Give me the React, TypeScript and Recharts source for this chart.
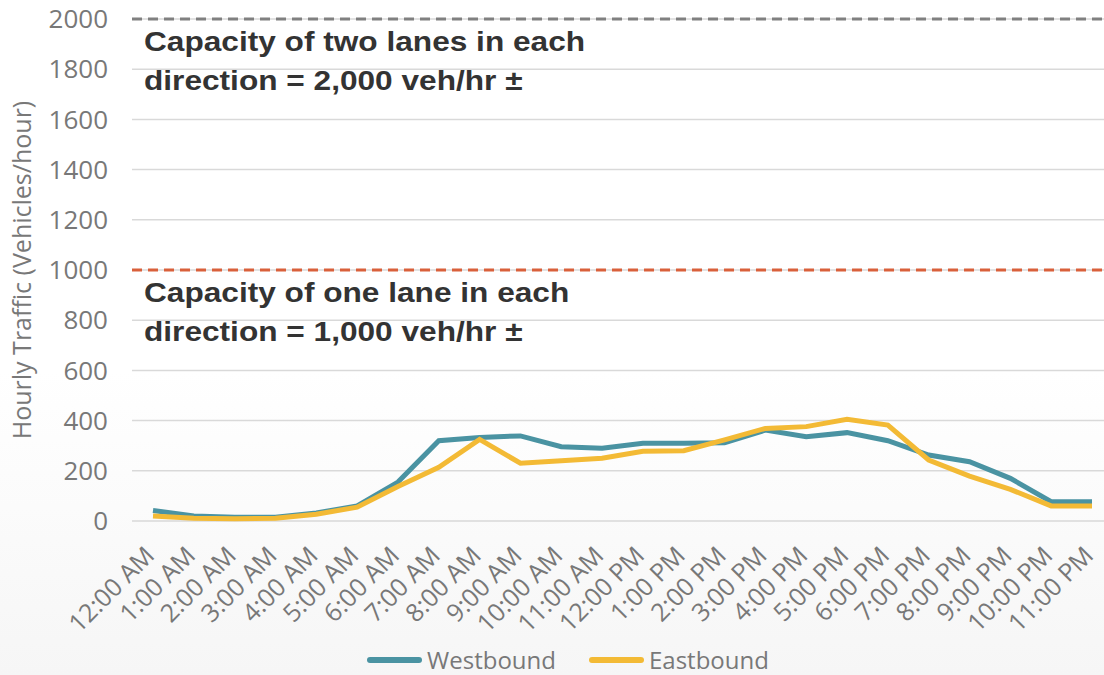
import {
  LineChart,
  Line,
  XAxis,
  YAxis,
  CartesianGrid,
  ReferenceLine,
  Legend,
} from 'recharts';

const hours = [
  '12:00 AM', '1:00 AM', '2:00 AM', '3:00 AM', '4:00 AM', '5:00 AM',
  '6:00 AM', '7:00 AM', '8:00 AM', '9:00 AM', '10:00 AM', '11:00 AM',
  '12:00 PM', '1:00 PM', '2:00 PM', '3:00 PM', '4:00 PM', '5:00 PM',
  '6:00 PM', '7:00 PM', '8:00 PM', '9:00 PM', '10:00 PM', '11:00 PM',
];
const westbound = [42, 20, 15, 15, 32, 60, 155, 320, 333, 339, 296, 290, 310, 310, 312, 362, 336, 352, 320, 263, 236, 170, 77, 77];
const eastbound = [20, 11, 9, 11, 27, 55, 137, 214, 325, 230, 240, 250, 278, 280, 323, 369, 376, 405, 382, 243, 179, 126, 60, 60];
const yTicks = [0, 200, 400, 600, 800, 1000, 1200, 1400, 1600, 1800, 2000];

const twoLaneText = ['Capacity of two lanes in each', 'direction = 2,000 veh/hr ±'];
const oneLaneText = ['Capacity of one lane in each', 'direction = 1,000 veh/hr ±'];

const data = hours.map((h, i) => ({ hour: h, westbound: westbound[i], eastbound: eastbound[i] }));

const TICK_FONT = '"Open Sans", "Noto Sans", sans-serif';
const GRAY = '#787878';
const TEAL = '#4a93a2';
const GOLD = '#f3ba35';

function HourTick({ x, y, payload }: any) {
  return (
    <g transform={`translate(${x + 3},${y + 36})`}>
      <text transform="rotate(-45)" textAnchor="end" fill={GRAY} fontSize={25} fontFamily={TICK_FONT}>
        {payload.value}
      </text>
    </g>
  );
}

// two-line note sitting just under a capacity line
const capacityLabel = (lines: string[]) => (props: any) => {
  const vb = props.viewBox;
  const x = vb.x + 12;
  const y = vb.y + 32;
  return (
    <g transform={`translate(${x},0) scale(1.13,1) translate(${-x},0)`}>
      <text
        x={x}
        y={y}
        fontSize={28}
        fontWeight="bold"
        fill="#333333"
        fontFamily='"Liberation Sans", Arial, sans-serif'
      >
        <tspan x={x} y={y}>{lines[0]}</tspan>
        <tspan x={x} dy={39}>{lines[1]}</tspan>
      </text>
    </g>
  );
};

function renderLegend() {
  const items = [
    { name: 'Westbound', color: TEAL },
    { name: 'Eastbound', color: GOLD },
  ];
  return (
    <div
      style={{
        height: 30,
        display: 'flex',
        justifyContent: 'center',
        alignItems: 'center',
        position: 'relative',
        top: 0,
        paddingLeft: 32,
        gap: 33,
        fontFamily: TICK_FONT,
        fontSize: 24,
        lineHeight: '30px',
        color: GRAY,
      }}
    >
      {items.map(it => (
        <div key={it.name} style={{ display: 'flex', alignItems: 'center', gap: 5 }}>
          <span style={{ width: 55, height: 6, borderRadius: 3, background: it.color, display: 'inline-block' }} />
          <span>{it.name}</span>
        </div>
      ))}
    </div>
  );
}

export default function App() {
  return (
    <div
      style={{
        position: 'absolute',
        left: 0,
        top: 0,
        width: 1104,
        height: 675,
        background: 'linear-gradient(to bottom, #ffffff 0%, #ffffff 55%, #f6f6f6 100%)',
      }}
    >
      <LineChart width={1104} height={675} data={data} margin={{ top: 19, right: 0, bottom: 0, left: 0 }}>
        <CartesianGrid vertical={false} stroke="#d9d9d9" strokeWidth={1.5} />
        <XAxis
          dataKey="hour"
          interval={0}
          height={124}
          tickLine={false}
          axisLine={false}
          tickSize={0}
          tickMargin={0}
          padding={{ left: 21, right: 12 }}
          tick={<HourTick />}
        />
        <YAxis
          width={132}
          domain={[0, 2000]}
          ticks={yTicks}
          tickLine={false}
          axisLine={false}
          tickSize={0}
          tickMargin={24}
          tick={{ fill: GRAY, fontSize: 26, fontFamily: TICK_FONT }}
          label={{
            value: 'Hourly Traffic (Vehicles/hour)',
            angle: -90,
            position: 'insideLeft',
            offset: 22,
            style: { textAnchor: 'middle', fill: GRAY, fontSize: 25, fontFamily: TICK_FONT },
          }}
        />
        <ReferenceLine y={2000} stroke="#808080" strokeWidth={3} strokeDasharray="10 6" label={capacityLabel(twoLaneText)} />
        <ReferenceLine y={1000} stroke="#d9603b" strokeWidth={3} strokeDasharray="10 6" label={capacityLabel(oneLaneText)} />
        <Line type="linear" dataKey="westbound" name="Westbound" stroke={TEAL} strokeWidth={5} dot={false} isAnimationActive={false} />
        <Line type="linear" dataKey="eastbound" name="Eastbound" stroke={GOLD} strokeWidth={5} dot={false} isAnimationActive={false} />
        <Legend verticalAlign="bottom" content={renderLegend} />
      </LineChart>
    </div>
  );
}
